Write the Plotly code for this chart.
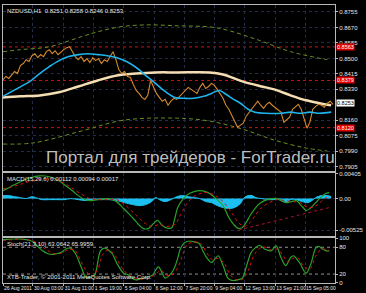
import plotly.graph_objects as go

# ---------------- data (bar index along time axis) ----------------
date_ticks = [0, 31, 63, 94, 125, 157, 188, 219, 250, 282, 313]
date_labels = ["26 Aug 2011", "30 Aug 03:00", "31 Aug 11:00", "1 Sep 19:00", "5 Sep 04:00",
               "6 Sep 12:00", "7 Sep 20:00", "9 Sep 04:00", "12 Sep 13:00", "13 Sep 21:00", "15 Sep 05:00"]

price_t = list(range(0, 343, 3))
price = [0.8384, 0.8401, 0.8390, 0.8412, 0.8428, 0.8417, 0.8461, 0.8472, 0.8493, 0.8483,
         0.8515, 0.8526, 0.8504, 0.8521, 0.8510, 0.8537, 0.8548, 0.8526, 0.8542, 0.8521,
         0.8537, 0.8548, 0.8559, 0.8564, 0.8537, 0.8510, 0.8493, 0.8510, 0.8483, 0.8499,
         0.8477, 0.8504, 0.8488, 0.8499, 0.8472, 0.8493, 0.8483, 0.8510, 0.8537, 0.8493,
         0.8439, 0.8417, 0.8428, 0.8401, 0.8395, 0.8357, 0.8324, 0.8308, 0.8286, 0.8275,
         0.8297, 0.8379, 0.8341, 0.8308, 0.8286, 0.8265, 0.8275, 0.8243, 0.8265, 0.8281,
         0.8275, 0.8292, 0.8308, 0.8324, 0.8341, 0.8330, 0.8319, 0.8308, 0.8341, 0.8363,
         0.8335, 0.8346, 0.8363, 0.8352, 0.8330, 0.8303, 0.8281, 0.8243, 0.8221, 0.8188,
         0.8156, 0.8123, 0.8134, 0.8145, 0.8183, 0.8205, 0.8226, 0.8243, 0.8265, 0.8243,
         0.8226, 0.8248, 0.8259, 0.8243, 0.8232, 0.8221, 0.8205, 0.8150, 0.8161, 0.8177,
         0.8221, 0.8237, 0.8248, 0.8221, 0.8166, 0.8117, 0.8150, 0.8221, 0.8237, 0.8248,
         0.8243, 0.8232, 0.8254, 0.8265, 0.8248]

ma_fast_t = [0, 13, 28, 38, 48, 58, 68, 78, 88, 98, 108, 118, 128, 138, 148, 158, 168, 178,
             188, 198, 208, 216, 224, 231, 239, 246, 254, 261, 273, 288, 298, 308, 318, 328, 340]
ma_fast = [0.8292, 0.8330, 0.8374, 0.8417, 0.8455, 0.8488, 0.8510, 0.8521, 0.8526, 0.8521,
           0.8515, 0.8504, 0.8483, 0.8450, 0.8406, 0.8363, 0.8319, 0.8286, 0.8281, 0.8281,
           0.8292, 0.8308, 0.8324, 0.8303, 0.8275, 0.8254, 0.8221, 0.8205, 0.8199, 0.8199,
           0.8205, 0.8199, 0.8205, 0.8199, 0.8205]

ma_slow_t = [0, 18, 38, 58, 78, 98, 118, 138, 158, 181, 214, 228, 248, 268, 281, 298, 314, 328, 340]
ma_slow = [0.8286, 0.8292, 0.8297, 0.8314, 0.8346, 0.8379, 0.8406, 0.8417, 0.8423, 0.8423,
           0.8423, 0.8412, 0.8374, 0.8346, 0.8330, 0.8297, 0.8270, 0.8254, 0.8243]

env_up_t = [0, 18, 48, 81, 98, 121, 148, 181, 214, 231, 264, 298, 336]
env_up = [0.8537, 0.8548, 0.8564, 0.8619, 0.8646, 0.8673, 0.8684, 0.8679, 0.8673, 0.8657,
          0.8602, 0.8537, 0.8493]
env_dn_t = [0, 31, 81, 125, 181, 214, 248, 281, 314, 336]
env_dn = [0.8030, 0.8036, 0.8101, 0.8161, 0.8172, 0.8156, 0.8112, 0.8052, 0.8008, 0.7992]

hlines = [0.8563, 0.8379, 0.8120]
hline_labels = ["0.8563", "0.8379", "0.8120"]
last_price = 0.8253

price_ticks = [0.8755, 0.8670, 0.8585, 0.8500, 0.8415, 0.8330, 0.8160, 0.8075, 0.7990, 0.7905]

macd_t = [0, 8, 18, 28, 38, 48, 56, 65, 72, 78, 85, 91, 98, 108, 116, 125, 135, 145, 151, 156,
          160, 165, 171, 175, 178, 181, 186, 191, 198, 204, 210, 216, 222, 228, 234, 239, 244,
          248, 252, 256, 261, 266, 271, 278, 284, 289, 294, 299, 304, 308, 311, 314, 318, 324,
          329, 334, 338]
macd = [0.00127, 0.00193, 0.00274, 0.00339, 0.00372, 0.00356, 0.00307, 0.00209, 0.00127,
        0.00046, -0.00020, -0.00036, -0.00020, -0.00003, -0.00036, -0.00166, -0.00330,
        -0.00493, -0.00493, -0.00411, -0.00362, -0.00444, -0.00493, -0.00477, -0.00330,
        -0.00150, -0.00020, 0.00062, 0.00111, 0.00127, 0.00111, 0.00062, -0.00020, -0.00118,
        -0.00313, -0.00428, -0.00493, -0.00477, -0.00395, -0.00281, -0.00166, -0.00085,
        -0.00036, -0.00003, -0.00003, -0.00036, -0.00069, -0.00052, -0.00036, -0.00101,
        -0.00150, -0.00199, -0.00166, -0.00069, 0.00013, 0.00078, 0.00095]

signal_t = [0, 10, 20, 30, 40, 50, 58, 66, 74, 82, 90, 98, 108, 118, 126, 136, 146, 154, 162,
            170, 178, 184, 190, 196, 204, 212, 220, 228, 236, 244, 250, 256, 262, 268, 276, 284,
            292, 300, 308, 314, 320, 326, 332, 338]
signal = [0.00160, 0.00193, 0.00242, 0.00290, 0.00323, 0.00323, 0.00290, 0.00225, 0.00144,
          0.00062, -0.00003, -0.00020, -0.00020, -0.00020, -0.00101, -0.00248, -0.00395,
          -0.00460, -0.00428, -0.00460, -0.00428, -0.00264, -0.00101, 0.00013, 0.00078,
          0.00095, 0.00046, -0.00052, -0.00215, -0.00395, -0.00460, -0.00395, -0.00264,
          -0.00150, -0.00069, -0.00020, -0.00036, -0.00052, -0.00069, -0.00134, -0.00150,
          -0.00101, -0.00020, 0.00046]

osma_t = [0, 6, 12, 18, 24, 30, 34, 40, 48, 56, 64, 70, 78, 86, 94, 102, 110, 118, 126, 134,
          142, 148, 154, 158, 162, 168, 174, 180, 186, 192, 198, 204, 210, 216, 222, 228, 234,
          240, 246, 250, 254, 258, 262, 268, 274, 280, 286, 290, 294, 298, 304, 310, 316, 320,
          324, 330, 336, 340]
osma = [0.00046, 0.00046, 0.00029, 0.00013, -0.00003, 0.00029, 0.00013, -0.00020, -0.00020,
        -0.00020, -0.00020, -0.00003, -0.00020, -0.00036, -0.00020, -0.00020, -0.00020,
        -0.00036, -0.00069, -0.00101, -0.00118, -0.00101, -0.00052, 0.00013, -0.00020,
        -0.00052, -0.00020, 0.00029, 0.00046, 0.00029, 0.00013, -0.00003, -0.00052, -0.00069,
        -0.00118, -0.00150, -0.00166, -0.00150, -0.00085, 0.00013, 0.00046, 0.00046, 0.00013,
        -0.00003, -0.00020, -0.00020, -0.00020, -0.00052, -0.00069, -0.00020, -0.00020,
        -0.00052, -0.00069, -0.00036, 0.00013, 0.00046, 0.00046, 0.00029]

macd_trend_t = [244, 338]
macd_trend = [-0.00520, -0.00150]
macd_ticks = [0.00405, 0.0, -0.00525]
macd_ticktext = ["0.00405", "0.00", "-0.00525"]

stoch_t = [0, 8, 16, 24, 28, 31, 36, 41, 46, 51, 56, 60, 65, 70, 75, 81, 86, 91, 95, 101, 105,
           109, 113, 118, 125, 130, 134, 138, 142, 146, 151, 155, 161, 165, 168, 172, 175, 178,
           181, 184, 188, 194, 198, 203, 207, 211, 216, 220, 223, 228, 233, 237, 241, 245, 248,
           253, 257, 261, 266, 271, 275, 278, 283, 288, 293, 298, 301, 305, 308, 314, 319, 324,
           327, 331, 335, 338]
stoch = [97, 98, 99, 97, 95, 92, 82, 72, 66, 64, 66, 68, 76, 78, 66, 36, 13, 13, 18, 72, 78,
         74, 66, 44, 22, 18, 10, 7, 9, 11, 14, 18, 36, 22, 11, 16, 24, 36, 55, 78, 90, 94, 92,
         89, 72, 57, 46, 55, 61, 39, 11, 6, 6, 8, 11, 43, 68, 78, 84, 76, 73, 72, 83, 57, 39,
         57, 61, 52, 43, 22, 43, 78, 82, 76, 72, 72]
stoch_sig_t = [0, 10, 20, 30, 38, 44, 50, 56, 62, 68, 74, 80, 86, 92, 98, 104, 110, 116, 122,
               128, 136, 144, 152, 158, 164, 169, 175, 181, 186, 191, 198, 205, 211, 217, 223,
               229, 235, 241, 248, 254, 260, 266, 272, 278, 284, 290, 295, 300, 306, 312, 318,
               324, 330, 336, 338]
stoch_sig = [95, 97, 98, 95, 86, 76, 68, 65, 68, 75, 74, 52, 28, 15, 30, 66, 74, 62, 38, 22,
             12, 9, 12, 20, 28, 18, 18, 34, 62, 86, 92, 88, 68, 52, 55, 45, 20, 8, 8, 28, 62,
             78, 80, 74, 76, 62, 47, 55, 55, 36, 32, 60, 76, 74, 73]
stoch_ticks = [100, 80, 20, 0]

# ---------------- styling ----------------
BG = "#000000"
GRID = "#222c48"
FRAME = "#b8b8b8"
TXT = "#e6e6e6"
FONT = "Liberation Sans"

fig = go.Figure()

# main panel
fig.add_trace(go.Scatter(x=env_up_t, y=env_up, mode="lines", line=dict(color="#6b8e23", width=1, dash="4px,3px", shape="spline"), xaxis="x", yaxis="y"))
fig.add_trace(go.Scatter(x=env_dn_t, y=env_dn, mode="lines", line=dict(color="#6b8e23", width=1, dash="4px,3px", shape="spline"), xaxis="x", yaxis="y"))
fig.add_trace(go.Scatter(x=ma_slow_t, y=ma_slow, mode="lines", line=dict(color="#f5deb3", width=2.5, shape="spline"), xaxis="x", yaxis="y"))
fig.add_trace(go.Scatter(x=price_t, y=price, mode="lines", line=dict(color="#d4892f", width=1.1), xaxis="x", yaxis="y"))
fig.add_trace(go.Scatter(x=ma_fast_t, y=ma_fast, mode="lines", line=dict(color="#1eb4ec", width=1.6, shape="spline"), xaxis="x", yaxis="y"))

# MACD panel
fig.add_trace(go.Scatter(x=osma_t, y=osma, mode="lines", fill="tozeroy", fillcolor="#1cc0f0",
                         line=dict(color="#1cc0f0", width=1, shape="spline"), xaxis="x2", yaxis="y2"))
fig.add_trace(go.Scatter(x=macd_t, y=macd, mode="lines", line=dict(color="#2aa02a", width=1.2, shape="spline"), xaxis="x2", yaxis="y2"))
fig.add_trace(go.Scatter(x=signal_t, y=signal, mode="lines", line=dict(color="#e01010", width=1, dash="dot", shape="spline"), xaxis="x2", yaxis="y2"))
fig.add_trace(go.Scatter(x=macd_trend_t, y=macd_trend, mode="lines", line=dict(color="#b01030", width=1, dash="dot"), xaxis="x2", yaxis="y2"))

# Stochastic panel
fig.add_trace(go.Scatter(x=stoch_t, y=stoch, mode="lines", line=dict(color="#2aa02a", width=1.2, shape="spline"), xaxis="x3", yaxis="y3"))
fig.add_trace(go.Scatter(x=stoch_sig_t, y=stoch_sig, mode="lines", line=dict(color="#e01010", width=1, dash="dot", shape="spline"), xaxis="x3", yaxis="y3"))

shapes = []
for lv in hlines:
    shapes.append(dict(type="line", xref="x domain", yref="y", x0=0, x1=1, y0=lv, y1=lv,
                       line=dict(color="#d01010", width=1, dash="dot"), layer="below"))
for lv in (80, 20):
    shapes.append(dict(type="line", xref="x3 domain", yref="y3", x0=0, x1=1, y0=lv, y1=lv,
                       line=dict(color="#909090", width=1, dash="dot"), layer="below"))

tickfont = dict(family=FONT, size=6, color=TXT)
xcommon = dict(range=[0, 344], tickvals=date_ticks, showgrid=True, gridcolor=GRID, griddash="dot",
               gridwidth=1, zeroline=False, showline=True, linecolor=FRAME, linewidth=1, mirror=True,
               fixedrange=True)
ycommon = dict(side="right", showgrid=True, gridcolor=GRID, griddash="dot", gridwidth=1,
               zeroline=False, showline=True, linecolor=FRAME, linewidth=1, mirror=True,
               ticks="outside", ticklen=2, tickcolor=FRAME, tickfont=tickfont, fixedrange=True)

annotations = []
for lv, lab in zip(hlines, hline_labels):
    annotations.append(dict(xref="paper", yref="y", x=1, y=lv, xanchor="left", xshift=1,
                            text=lab, showarrow=False, bgcolor="#e00000",
                            font=dict(family=FONT, size=5.5, color="#ffffff"), borderpad=0))
annotations.append(dict(xref="paper", yref="y", x=1, y=last_price, xanchor="left", xshift=1,
                        text="0.8253", showarrow=False, bgcolor="#ffffff",
                        font=dict(family=FONT, size=5.5, color="#000000"), borderpad=0))
annotations.append(dict(xref="paper", yref="paper", x=0, y=1, xanchor="left", yanchor="top",
                        xshift=2, yshift=-1, showarrow=False,
                        text="NZDUSD,H1  0.8251 0.8258 0.8246 0.8253",
                        font=dict(family=FONT, size=6, color=TXT)))
annotations.append(dict(xref="paper", yref="paper", x=0, y=0.3964, xanchor="left", yanchor="top",
                        xshift=2, yshift=-1, showarrow=False,
                        text="MACD(15,29,6) 0.00112 0.00094 0.00017",
                        font=dict(family=FONT, size=6, color=TXT)))
annotations.append(dict(xref="paper", yref="paper", x=0, y=0.1607, xanchor="left", yanchor="top",
                        xshift=2, yshift=-1, showarrow=False,
                        text="Stoch(21,3,10) 63.0642 65.9959",
                        font=dict(family=FONT, size=6, color=TXT)))
annotations.append(dict(xref="paper", yref="paper", x=0, y=0, xanchor="left", yanchor="bottom",
                        xshift=2, yshift=1, showarrow=False,
                        text="XTB-Trader, © 2001-2011 MetaQuotes Software Corp.",
                        font=dict(family=FONT, size=6, color=TXT)))
annotations.append(dict(xref="paper", yref="paper", x=0.565, y=0.468, xanchor="center", yanchor="middle",
                        yshift=-5, showarrow=False, text="Портал для трейдеров - ForTrader.ru",
                        font=dict(family=FONT, size=17, color="rgba(215,215,215,0.9)")))

fig.update_layout(
    width=366, height=293, margin=dict(l=2, r=20, t=3, b=10),
    paper_bgcolor=BG, plot_bgcolor=BG, showlegend=False,
    xaxis=dict(xcommon, anchor="y", domain=[0, 1], showticklabels=False),
    xaxis2=dict(xcommon, anchor="y2", domain=[0, 1], matches="x", showticklabels=False),
    xaxis3=dict(xcommon, anchor="y3", domain=[0, 1], matches="x", ticktext=date_labels,
                ticks="outside", ticklen=2, tickcolor=FRAME, tickfont=dict(family=FONT, size=5, color=TXT),
                ticklabelposition="outside right", tickangle=0),
    yaxis=dict(ycommon, domain=[0.4036, 1], range=[0.78831, 0.87932], tickvals=price_ticks,
               ticktext=[f"{v:.4f}" for v in price_ticks]),
    yaxis2=dict(ycommon, domain=[0.1679, 0.3964], range=[-0.00623, 0.00421], tickvals=macd_ticks,
                ticktext=macd_ticktext),
    yaxis3=dict(ycommon, domain=[0, 0.1607], range=[0, 100], tickvals=stoch_ticks,
                ticktext=[str(v) for v in stoch_ticks], showgrid=False),
    shapes=shapes, annotations=annotations,
)

fig.write_html("out.html")
